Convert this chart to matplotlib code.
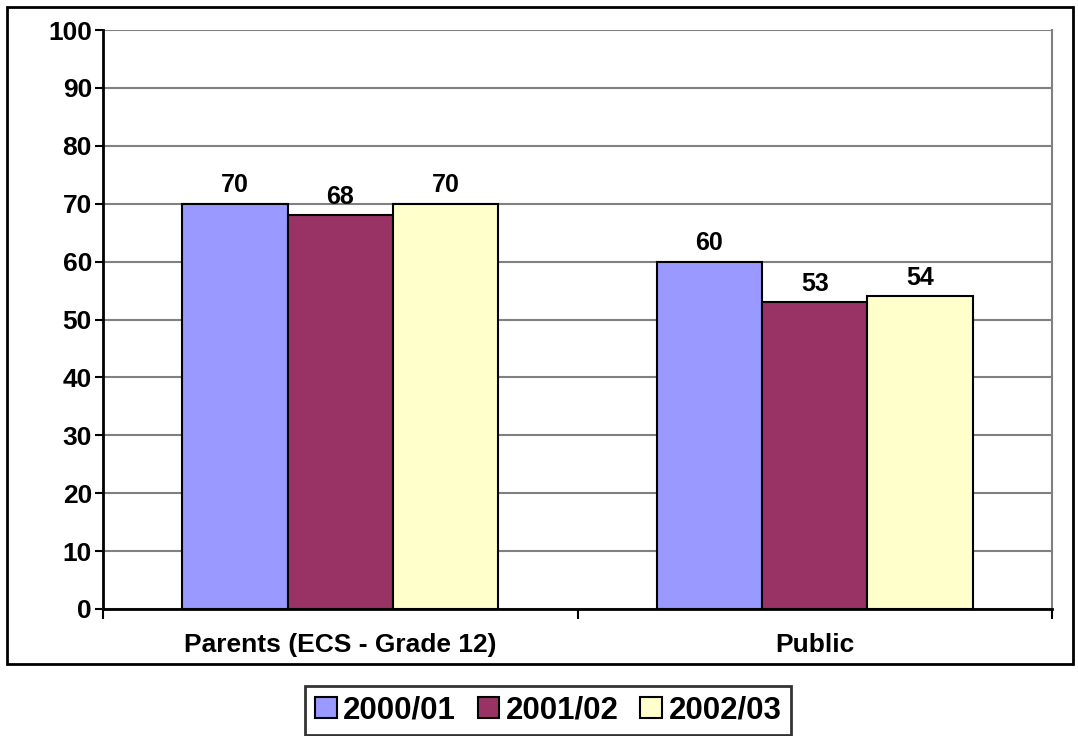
import matplotlib.pyplot as plt
import numpy as np
from matplotlib.patches import Rectangle

# Data
categories = ["Parents (ECS - Grade 12)", "Public"]
years = ["2000/01", "2001/02", "2002/03"]
values = {
    "2000/01": [70, 60],
    "2001/02": [68, 53],
    "2002/03": [70, 54],
}
colors = ["#9999FF", "#993366", "#FFFFCC"]

plt.rcParams["font.family"] = ["Liberation Sans", "DejaVu Sans"]
plt.rcParams["font.weight"] = "bold"

fig = plt.figure(figsize=(10.78, 7.36), dpi=100)
ax = fig.add_axes([103 / 1078, 1 - 609 / 736, 949 / 1078, 579 / 736])

x = np.arange(len(categories))
width = 0.222
for i, year in enumerate(years):
    pos = x + (i - 1) * width
    bars = ax.bar(pos, values[year], width, color=colors[i], edgecolor="black",
                  linewidth=1.5, label=year, zorder=3)
    for b, v in zip(bars, values[year]):
        ax.text(b.get_x() + b.get_width() / 2, v + 1.1, str(v), ha="center",
                va="bottom", fontsize=18, fontweight="bold")

ax.set_xlim(-0.5, 1.5)
ax.set_ylim(0, 100)
ax.set_yticks(range(0, 101, 10))
ax.yaxis.grid(True, color="#808080", linewidth=1.5, zorder=0)
ax.set_xticks([-0.5, 0.5, 1.5], minor=True)
ax.set_xticks([0, 1])
ax.set_xticklabels(categories, fontsize=19, fontweight="bold")
ax.tick_params(axis="x", which="major", length=0, pad=17)
ax.tick_params(axis="x", which="minor", length=7, width=1.5, color="black")
ax.tick_params(axis="y", length=6, width=1.5, labelsize=19, pad=2)
for lbl in ax.get_yticklabels():
    lbl.set_fontweight("bold")

ax.spines["left"].set_linewidth(2)
ax.spines["bottom"].set_linewidth(2)
ax.spines["top"].set_visible(False)
ax.spines["right"].set_color("#808080")
ax.spines["right"].set_linewidth(1.5)

# outer chart border
fig.patches.append(Rectangle((7 / 1078, 1 - 664 / 736), 1066 / 1078, 657 / 736,
                             transform=fig.transFigure, fill=False,
                             edgecolor="black", linewidth=2))

leg = fig.legend(loc="upper center", bbox_to_anchor=(548 / 1078, 1 - 686 / 736), ncol=3,
                 frameon=True, fancybox=False, edgecolor="black",
                 prop={"size": 22.5, "weight": "bold"}, handlelength=0.7,
                 handleheight=0.7, handletextpad=0.2, columnspacing=0.7,
                 borderpad=0.3, borderaxespad=0)
leg.get_frame().set_linewidth(2)

fig.savefig("out.png", dpi=100)
